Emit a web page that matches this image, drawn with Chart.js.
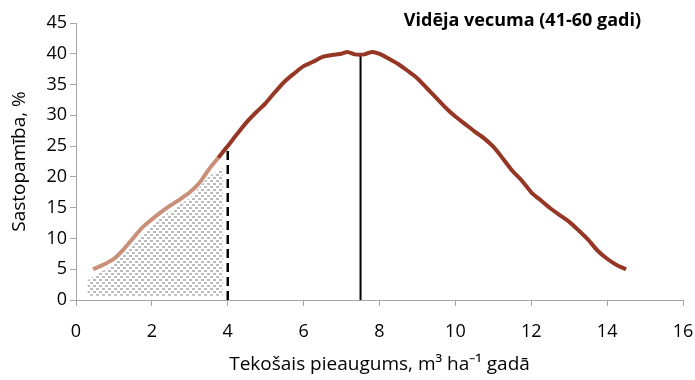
<!DOCTYPE html>
<html>
<head>
<meta charset="utf-8">
<script src="https://cdn.jsdelivr.net/npm/chart.js@4.4.1/dist/chart.umd.min.js"></script>
<style>
  body { margin: 0; background: #fff; }
  canvas { display: block; }
</style>
</head>
<body>
<canvas id="chart" width="695" height="380"></canvas>
<script>
// occurrence curve over annual increment
const growth = [0.45, 0.75, 1.0, 1.25, 1.5, 1.75, 2.0, 2.25, 2.5, 2.75, 3.0, 3.25, 3.5, 3.75,
  4.0, 4.25, 4.5, 4.75, 5.0, 5.25, 5.5, 5.75, 6.0, 6.25, 6.5, 6.75, 7.0, 7.15, 7.35, 7.6,
  7.8, 8.0, 8.25, 8.5, 8.75, 9.0, 9.25, 9.5, 9.75, 10.0, 10.25, 10.5, 10.75, 11.0, 11.25,
  11.5, 11.75, 12.0, 12.25, 12.5, 12.75, 13.0, 13.25, 13.5, 13.75, 14.0, 14.25, 14.5];
const occurrence = [5.0, 5.8, 6.7, 8.2, 10.0, 11.8, 13.1, 14.3, 15.4, 16.4, 17.5, 19.0, 21.2, 23.1,
  25.0, 27.0, 28.9, 30.5, 32.0, 33.8, 35.5, 36.8, 38.0, 38.7, 39.5, 39.8, 40.0, 40.3, 39.9, 39.9,
  40.3, 40.0, 39.2, 38.3, 37.2, 36.0, 34.4, 32.8, 31.2, 29.8, 28.6, 27.4, 26.3, 24.9, 23.0,
  21.0, 19.4, 17.5, 16.2, 14.9, 13.8, 12.7, 11.3, 9.8, 8.0, 6.7, 5.7, 5.0];

// stippled area below the low-increment part
const shadeX = [0.3, 0.5, 1.0, 1.5, 2.0, 2.5, 3.0, 3.5, 3.87];
const shadeTop = [3.2, 4.0, 5.8, 9.2, 12.2, 14.5, 16.6, 20.0, 21.5];
const shadeBase = 0.7;

// vertical markers: threshold (dashed) and optimum (solid)
const thresholdX = 4, thresholdTop = 25;
const optimumX = 7.5, optimumTop = 40;

const lightEnd = 3.6;
const xTicks = [0, 16, 2];
const yTicks = [0, 45, 5];
const title = 'Vidēja vecuma (41-60 gadi)';

const dark = '#963726';
const light = '#c98f78';
const axisGrey = '#a6a6a6';
const font = 'Open Sans';

const dots = document.createElement('canvas');
dots.width = 6;
dots.height = 6;
const dctx = dots.getContext('2d');
dctx.fillStyle = '#bcbcbc';
dctx.fillRect(0, 0, 3, 2);
dctx.fillRect(3, 3, 3, 2);
const stipple = dctx.createPattern(dots, 'repeat');

const pts = (xs, ys) => xs.map((x, i) => ({ x: x, y: ys[i] }));

const titlePlugin = {
  id: 'cornerTitle',
  afterDraw(chart) {
    const c = chart.ctx;
    const area = chart.chartArea;
    c.save();
    c.font = 'bold 18px "' + font + '"';
    c.fillStyle = '#000';
    c.textAlign = 'right';
    c.textBaseline = 'middle';
    c.fillText(title, area.right - 42, area.top - 2);
    c.restore();
  }
};

new Chart(document.getElementById('chart'), {
  type: 'line',
  data: {
    datasets: [
      {
        data: pts(growth, occurrence),
        borderColor: dark,
        borderWidth: 4,
        pointRadius: 0,
        tension: 0.25,
        fill: false,
        order: 1,
        segment: {
          borderColor: c => c.p0.parsed.x < lightEnd ? light : dark
        }
      },
      {
        data: pts(shadeX, shadeTop),
        borderWidth: 0,
        borderColor: 'rgba(0,0,0,0)',
        backgroundColor: stipple,
        pointRadius: 0,
        tension: 0.2,
        fill: { value: shadeBase },
        order: 3
      },
      {
        data: pts([thresholdX, thresholdX], [0, thresholdTop]),
        borderColor: '#000',
        borderWidth: 2.5,
        borderDash: [9, 5],
        pointRadius: 0,
        order: 2
      },
      {
        data: pts([optimumX, optimumX], [0, optimumTop]),
        borderColor: '#000',
        borderWidth: 2,
        pointRadius: 0,
        order: 2
      }
    ]
  },
  options: {
    responsive: false,
    animation: false,
    layout: { padding: { top: 23, right: 0, left: 0, bottom: 0 } },
    plugins: { legend: { display: false }, tooltip: { enabled: false } },
    scales: {
      x: {
        type: 'linear',
        min: xTicks[0],
        max: xTicks[1],
        ticks: { stepSize: xTicks[2], color: '#000', font: { family: font, size: 18 }, padding: 15 },
        grid: { drawOnChartArea: false, tickLength: 6, color: axisGrey },
        border: { color: axisGrey },
        title: {
          display: true,
          text: 'Tekošais pieaugums, m³ ha⁻¹ gadā',
          color: '#000',
          font: { family: font, size: 19 },
          padding: { top: 2, bottom: 4 }
        },
        afterFit: s => { s.height = 80; s.paddingRight = 12; }
      },
      y: {
        min: yTicks[0],
        max: yTicks[1],
        ticks: { stepSize: yTicks[2], color: '#000', font: { family: font, size: 18 }, padding: 3 },
        grid: { drawOnChartArea: false, tickLength: 6, color: axisGrey },
        border: { color: axisGrey },
        title: {
          display: true,
          text: 'Sastopamība, %',
          color: '#000',
          font: { family: font, size: 19 },
          padding: { top: 8, bottom: 2 }
        },
        afterFit: s => { s.width = 76; }
      }
    }
  },
  plugins: [titlePlugin]
});
</script>
</body>
</html>
